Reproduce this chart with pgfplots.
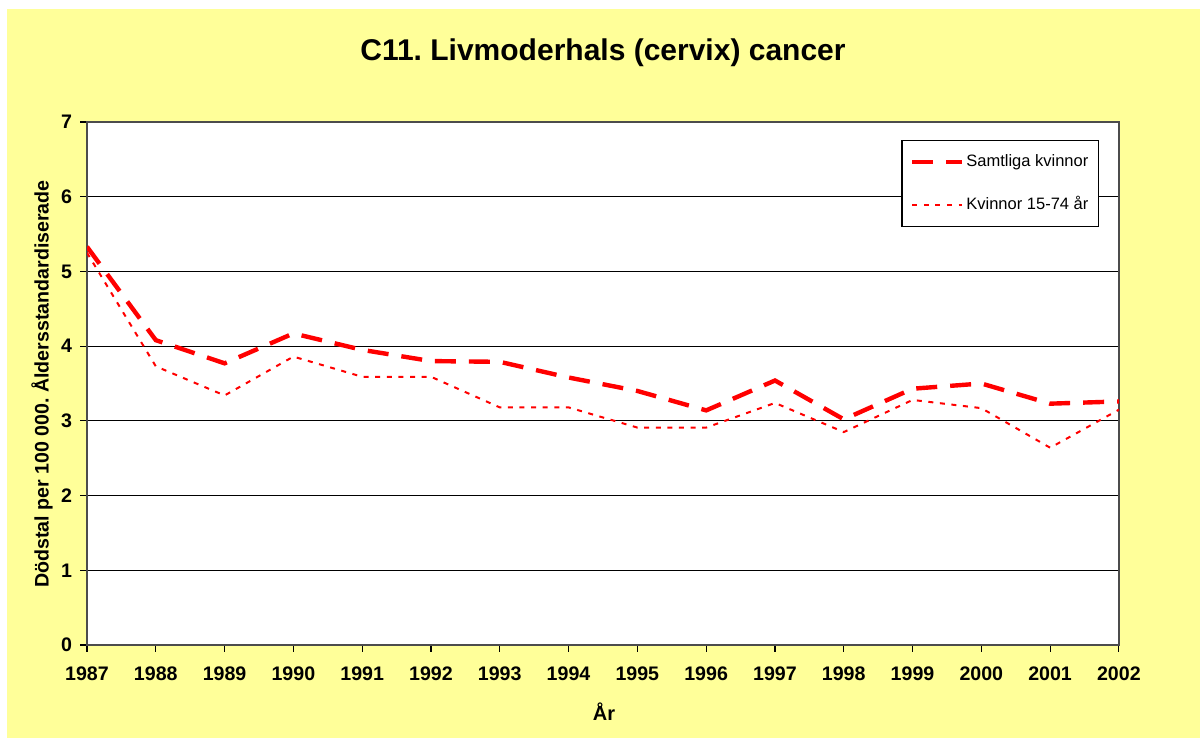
\documentclass[border=0pt]{standalone}
\usepackage{fontspec}
\setmainfont{Liberation Sans}
\usepackage{pgfplots}
\pgfplotsset{compat=1.18}
\definecolor{bgyellow}{RGB}{255,255,153}
\definecolor{lred}{RGB}{255,0,0}
\frenchspacing
\begin{document}
\begin{tikzpicture}
\useasboundingbox (0,0) rectangle (600pt,369pt);
\fill[white] (0,0) rectangle (600pt,369pt);
\fill[bgyellow] (3.5pt,0) rectangle (600pt,364.5pt);
\begin{axis}[
  at={(43.5pt,46.5pt)}, anchor=south west,
  scale only axis, width=516pt, height=261.5pt,
  xmin=1987, xmax=2002, ymin=0, ymax=7,
  xtick={1987,...,2002}, ytick={0,...,7},
  /pgf/number format/1000 sep={},
  /pgf/number format/assume math mode=true,
  ticklabel style={font=\fontsize{9.8}{11}\selectfont\bfseries},
  xticklabel style={yshift=-4pt},
  yticklabel style={xshift=-0.5pt},
  tick align=outside, major tick length=3.5pt,
  xtick pos=bottom, ytick pos=left,
  tick style={black, line width=0.6pt},
  ymajorgrids, grid style={black, line width=0.5pt},
  axis line style={black!70, line width=0.6pt},
  axis background/.style={fill=white},
  title={C11.\ Livmoderhals (cervix) cancer},
  title style={font=\fontsize{15}{18}\selectfont\bfseries, at={(axis description cs:0.5,1.109)}, anchor=center, yshift=0pt},
  xlabel={År},
  xlabel style={font=\fontsize{10}{12}\selectfont\bfseries, at={(axis description cs:0.501,-0.128)}, anchor=center},
  ylabel={Dödstal per 100 000.\ Åldersstandardiserade},
  ylabel style={font=\fontsize{9.8}{12}\selectfont\bfseries, at={(axis description cs:-0.0436,0.499)}, anchor=center, rotate=0},
  legend style={at={(axis description cs:0.9806,0.9656)}, anchor=north east, draw=black, line width=0.6pt, fill=white,
    font=\fontsize{8.25}{10}\selectfont, row sep=11.5pt, inner xsep=4pt, inner ysep=6pt,
    nodes={inner sep=1pt}},
  legend cell align=left,
  legend image code/.code={\draw[#1] (0pt,0pt) -- (25pt,0pt);},
]
\addplot[lred, line width=2.2pt, dash pattern=on 10.5pt off 6.5pt] coordinates {
(1987,5.33) (1988,4.08) (1989,3.77) (1990,4.17) (1991,3.95) (1992,3.80)
(1993,3.79) (1994,3.58) (1995,3.40) (1996,3.14) (1997,3.54) (1998,3.02)
(1999,3.43) (2000,3.50) (2001,3.23) (2002,3.26)};
\addlegendentry{Samtliga kvinnor}
\addplot[lred, line width=1pt, dash pattern=on 2.5pt off 3.3pt] coordinates {
(1987,5.25) (1988,3.73) (1989,3.34) (1990,3.86) (1991,3.59) (1992,3.59)
(1993,3.18) (1994,3.18) (1995,2.91) (1996,2.91) (1997,3.24) (1998,2.85)
(1999,3.28) (2000,3.17) (2001,2.64) (2002,3.15)};
\addlegendentry{Kvinnor 15-74 år}
\end{axis}
\end{tikzpicture}
\end{document}
